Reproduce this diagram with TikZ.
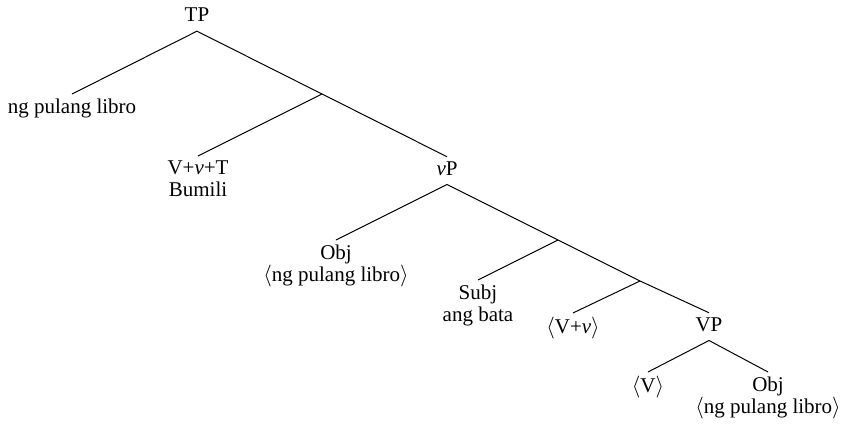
\documentclass[tikz,border=0pt]{standalone}
\usepackage{fontspec}
\setmainfont{Liberation Serif}
\begin{document}
\begin{tikzpicture}[scale=1.0, line width=0.5pt,
  every node/.style={align=center, inner sep=2pt, font=\fontsize{10.5}{11.3}\selectfont},
  cat/.style={anchor=base, text depth=2.5pt},
  leaf/.style={anchor=north}]
\useasboundingbox (0,0) rectangle (14.794,-7.503);
% TP
\node[cat] (tp) at (3.461,-0.381) {TP};
\coordinate (tbar) at (5.658,-1.652);
\node[leaf] (spec) at (1.265,-1.652) {ng pulang libro};
\node[leaf] (vvt) at (3.479,-2.741) {V+\textit{v}+T\\ Bumili};
\node[cat] (vp) at (7.854,-3.075) {\textit{v}P};
\draw (tp.south) -- (spec.north);
\draw (tp.south) -- (tbar) -- (vp.north);
\draw (tbar) -- (vvt.north);
% vP
\coordinate (vbar) at (9.804,-4.217);
\coordinate (vbarb) at (11.245,-4.937);
\node[leaf] (objcopy) at (5.904,-4.217) {Obj\\ $\langle$ng pulang libro$\rangle$};
\node[leaf] (subj) at (8.398,-4.920) {Subj\\ ang bata};
\node[leaf] (vcopy) at (10.068,-5.499) {$\langle$V+\textit{v}$\rangle$};
\node[cat] (bigvp) at (12.457,-5.816) {VP};
\draw (vp.south) -- (objcopy.north);
\draw (vp.south) -- (vbar) -- (vbarb) -- (bigvp.north);
\draw (vbar) -- (subj.north);
\draw (vbarb) -- (vcopy.north);
% VP
\node[leaf] (vtrace) at (11.385,-6.536) {$\langle$V$\rangle$};
\node[leaf] (obj) at (13.494,-6.536) {Obj\\ $\langle$ng pulang libro$\rangle$};
\draw (bigvp.south) -- (vtrace.north);
\draw (bigvp.south) -- (obj.north);
\end{tikzpicture}
\end{document}
